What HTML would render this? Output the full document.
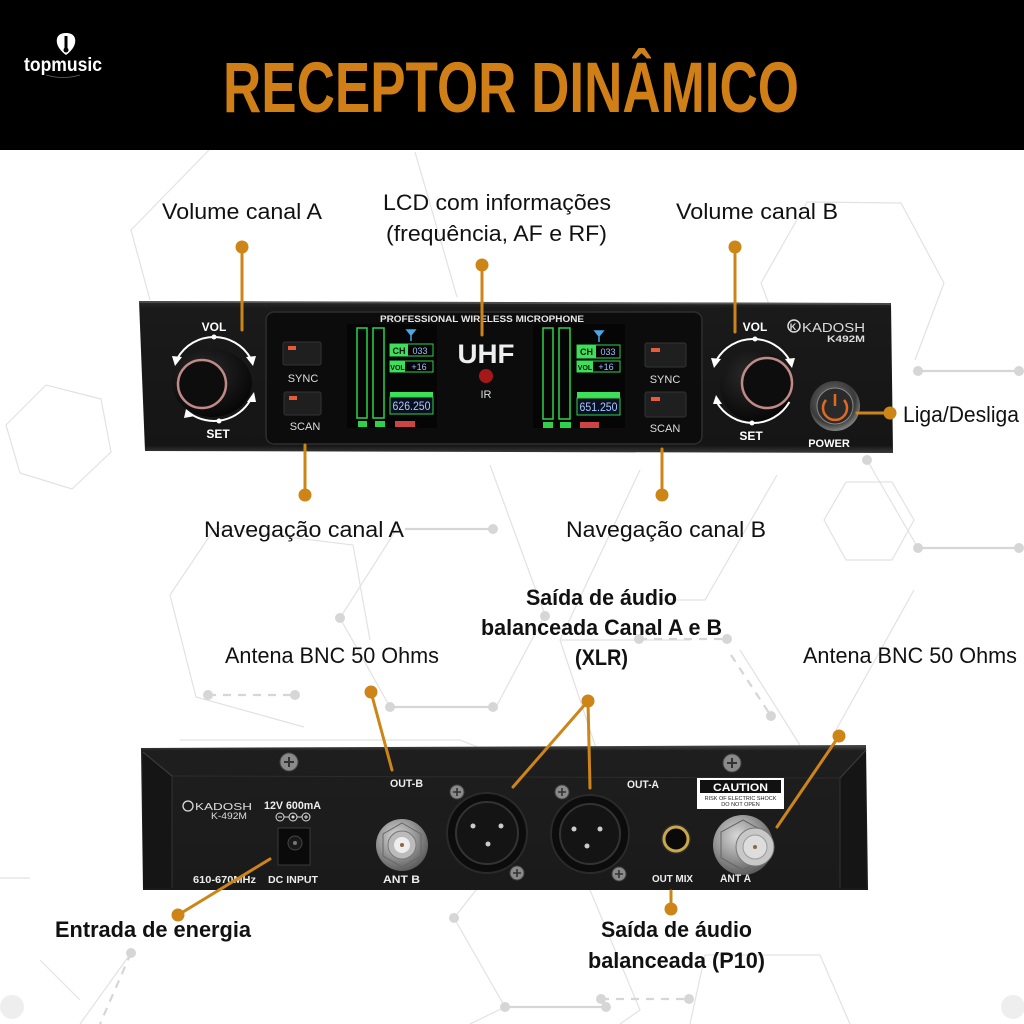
<!DOCTYPE html>
<html><head><meta charset="utf-8"><style>
html,body{margin:0;padding:0;background:#fff;}
svg{display:block;}
</style></head><body>
<svg width="1024" height="1024" viewBox="0 0 1024 1024" xmlns="http://www.w3.org/2000/svg">
<defs>
<radialGradient id="metal" cx="40%" cy="35%" r="70%"><stop offset="0" stop-color="#d8d8d8"/><stop offset="0.5" stop-color="#9a9a9a"/><stop offset="1" stop-color="#555"/></radialGradient>
<radialGradient id="pwr" cx="45%" cy="40%" r="65%"><stop offset="0" stop-color="#777"/><stop offset="0.7" stop-color="#3a3a3a"/><stop offset="1" stop-color="#999"/></radialGradient>
<radialGradient id="knob" cx="40%" cy="35%" r="70%"><stop offset="0" stop-color="#2a2a2a"/><stop offset="1" stop-color="#050505"/></radialGradient>
<linearGradient id="front" x1="0" y1="0" x2="0" y2="1"><stop offset="0" stop-color="#2b2b2b"/><stop offset="0.05" stop-color="#1a1a1a"/><stop offset="0.95" stop-color="#151515"/><stop offset="1" stop-color="#3a3a3a"/></linearGradient>
<linearGradient id="back" x1="0" y1="0" x2="0" y2="1"><stop offset="0" stop-color="#4a4a4a"/><stop offset="0.04" stop-color="#1e1e1e"/><stop offset="1" stop-color="#1a1a1a"/></linearGradient>
</defs>

<!-- background -->
<rect width="1024" height="1024" fill="#fff"/>

<!-- hex background pattern -->
<g fill="none" stroke="#e2e2e2" stroke-width="1.2">
<polyline points="209,150 131,230 150,300"/>
<polyline points="415,152 457,297"/>
<polyline points="807,202 901,203 944,283 915,360"/>
<polyline points="807,202 761,283 790,360"/>
<polygon points="6,425 46,385 101,399 111,452 72,489 20,473"/>
<polygon points="846,482 892,482 914,520 892,560 846,560 824,520"/>
<polyline points="867,460 918,548"/>
<polyline points="777,475 705,600 660,600"/>
<polyline points="490,465 545,615 496,707"/>
<polyline points="398,527 340,618 390,707"/>
<polyline points="170,595 215,528 353,545 370,640"/>
<polyline points="170,595 196,697 304,727"/>
<polyline points="914,590 836,730"/>
<polyline points="640,470 560,640 600,760"/>
<polyline points="560,640 690,640"/>
<polyline points="740,650 800,745"/>
<polyline points="180,740 460,740 480,748"/>
<polyline points="454,918 505,1007 470,1024"/>
<polyline points="454,918 480,885"/>
<polyline points="131,953 80,1024"/>
<polyline points="40,960 80,1000"/>
<polyline points="590,890 640,1010 620,1024"/>
<polyline points="705,955 820,955 850,1024"/>
<polyline points="705,955 690,1024"/>
<polyline points="0,878 30,878"/>
</g>
<g stroke="#d6d6d6" stroke-width="2.2" fill="none">
<line x1="405" y1="529" x2="493" y2="529"/>
<line x1="390" y1="707" x2="493" y2="707"/>
<line x1="918" y1="371" x2="1019" y2="371"/>
<line x1="918" y1="548" x2="1019" y2="548"/>
<line x1="505" y1="1007" x2="606" y2="1007"/>
<line x1="208" y1="695" x2="295" y2="695" stroke-dasharray="8,7"/>
<line x1="639" y1="639" x2="727" y2="639" stroke-dasharray="8,7"/>
<line x1="601" y1="999" x2="689" y2="999" stroke-dasharray="8,7"/>
<line x1="731" y1="655" x2="771" y2="716" stroke-dasharray="8,7"/>
<line x1="131" y1="953" x2="100" y2="1024" stroke-dasharray="8,7"/>
</g>
<g fill="#d6d6d6">
<circle cx="493" cy="529" r="5"/><circle cx="340" cy="618" r="5"/><circle cx="390" cy="707" r="5"/><circle cx="493" cy="707" r="5"/>
<circle cx="208" cy="695" r="5"/><circle cx="295" cy="695" r="5"/><circle cx="639" cy="639" r="5"/><circle cx="727" cy="639" r="5"/>
<circle cx="545" cy="616" r="5"/><circle cx="771" cy="716" r="5"/><circle cx="918" cy="371" r="5"/><circle cx="1019" cy="371" r="5"/>
<circle cx="918" cy="548" r="5"/><circle cx="1019" cy="548" r="5"/><circle cx="867" cy="460" r="5"/>
<circle cx="454" cy="918" r="5"/><circle cx="131" cy="953" r="5"/><circle cx="505" cy="1007" r="5"/><circle cx="606" cy="1007" r="5"/>
<circle cx="601" cy="999" r="5"/><circle cx="689" cy="999" r="5"/>
<circle cx="12" cy="1007" r="12" fill="#eee"/><circle cx="1013" cy="1007" r="12" fill="#eee"/>
</g>

<!-- header -->
<rect x="0" y="0" width="1024" height="150" fill="#000"/>
<path d="M66,33 C58,33 56,38 57,43 C58,48 62,52 66,55 C70,52 74,48 75,43 C76,38 74,33 66,33 Z" fill="#fff"/>
<rect x="64.5" y="36" width="3" height="16" fill="#000"/>
<circle cx="66" cy="50" r="2.5" fill="#000"/>
<text x="24" y="71" font-family="Liberation Sans Narrow, Liberation Sans, sans-serif" font-weight="bold" font-size="19" fill="#fff" textLength="78" lengthAdjust="spacingAndGlyphs">topmusic</text>
<path d="M46,75 Q63,80 80,75" stroke="#666" stroke-width="0.8" fill="none"/>
<text x="223" y="112" font-family="Liberation Sans Narrow, Liberation Sans, sans-serif" font-weight="bold" font-size="71" fill="#cf7f16" textLength="576" lengthAdjust="spacingAndGlyphs">RECEPTOR DINÂMICO</text>

<!-- labels -->
<g font-family="Liberation Sans Narrow, Liberation Sans, sans-serif" font-size="22" fill="#111">
<text x="162" y="219" textLength="160" lengthAdjust="spacingAndGlyphs">Volume canal A</text>
<text x="383" y="210" textLength="228" lengthAdjust="spacingAndGlyphs">LCD com informações</text>
<text x="386" y="241" textLength="221" lengthAdjust="spacingAndGlyphs">(frequência, AF e RF)</text>
<text x="676" y="219" textLength="162" lengthAdjust="spacingAndGlyphs">Volume canal B</text>
<text x="903" y="422" textLength="116" lengthAdjust="spacingAndGlyphs">Liga/Desliga</text>
<text x="204" y="537" textLength="200" lengthAdjust="spacingAndGlyphs">Navegação canal A</text>
<text x="566" y="537" textLength="200" lengthAdjust="spacingAndGlyphs">Navegação canal B</text>
<text x="225" y="663" textLength="214" lengthAdjust="spacingAndGlyphs">Antena BNC 50 Ohms</text>
<text x="803" y="663" textLength="214" lengthAdjust="spacingAndGlyphs">Antena BNC 50 Ohms</text>
</g>
<g font-family="Liberation Sans Narrow, Liberation Sans, sans-serif" font-size="22" font-weight="bold" fill="#111">
<text x="526" y="605" textLength="151" lengthAdjust="spacingAndGlyphs">Saída de áudio</text>
<text x="481" y="635" textLength="241" lengthAdjust="spacingAndGlyphs">balanceada Canal A e B</text>
<text x="575" y="665" textLength="53" lengthAdjust="spacingAndGlyphs">(XLR)</text>
<text x="55" y="937" textLength="196" lengthAdjust="spacingAndGlyphs">Entrada de energia</text>
<text x="601" y="937" textLength="151" lengthAdjust="spacingAndGlyphs">Saída de áudio</text>
<text x="588" y="968" textLength="177" lengthAdjust="spacingAndGlyphs">balanceada (P10)</text>
</g>

<!-- FRONT DEVICE -->
<polygon points="139,301 891,303 893,453 145,451" fill="url(#front)"/>
<line x1="139" y1="302" x2="891" y2="304" stroke="#555" stroke-width="1.5"/>
<rect x="266" y="312" width="436" height="132" rx="8" fill="#0c0c0c" stroke="#2e2e2e" stroke-width="1.5"/>
<text x="380" y="322" font-family="Liberation Sans, sans-serif" font-weight="bold" font-size="9" fill="#e6e6e6" textLength="204" lengthAdjust="spacingAndGlyphs">PROFESSIONAL WIRELESS MICROPHONE</text>

<!-- left knob -->
<g>
<ellipse cx="212" cy="383" rx="40" ry="34" fill="url(#knob)"/>
<circle cx="202" cy="384" r="24" fill="#0d0d0d" stroke="#c08a88" stroke-width="2.5"/>
<path d="M177.6,358 A42,42 0 0 1 250.4,358" stroke="#fff" stroke-width="2" fill="none"/>
<path d="M250.4,400 A42,42 0 0 1 190,413.4" stroke="#fff" stroke-width="2" fill="none"/>
<polygon points="172,356 182,357 175,366" fill="#fff"/>
<polygon points="246,357 256,356 253,366" fill="#fff"/>
<polygon points="247,402 256,402 254,392" fill="#fff"/>
<polygon points="186,409 195,416 184,418" fill="#fff"/>
<circle cx="214" cy="337" r="2.5" fill="#fff"/><circle cx="219" cy="421" r="2.5" fill="#fff"/>
<text x="214" y="331" text-anchor="middle" font-family="Liberation Sans, sans-serif" font-weight="bold" font-size="12" fill="#fff">VOL</text>
<text x="218" y="438" text-anchor="middle" font-family="Liberation Sans, sans-serif" font-weight="bold" font-size="12" fill="#fff">SET</text>
</g>

<!-- left buttons -->
<rect x="283" y="342" width="38" height="23" rx="2" fill="#1f1f1f" stroke="#333"/>
<rect x="288" y="346" width="8" height="4" fill="#e85a3a"/>
<text x="303" y="382" text-anchor="middle" font-family="Liberation Sans, sans-serif" font-size="11" fill="#ddd">SYNC</text>
<rect x="284" y="392" width="37" height="23" rx="2" fill="#1f1f1f" stroke="#333"/>
<rect x="289" y="396" width="8" height="4" fill="#e85a3a"/>
<text x="305" y="430" text-anchor="middle" font-family="Liberation Sans, sans-serif" font-size="11" fill="#ddd">SCAN</text>

<!-- left LCD -->
<rect x="347" y="324" width="90" height="104" fill="#050505"/>
<rect x="357" y="328" width="10" height="90" fill="none" stroke="#2fd14a" stroke-width="1.5"/>
<rect x="373" y="328" width="11" height="90" fill="none" stroke="#2fd14a" stroke-width="1.5"/>
<rect x="358" y="421" width="9" height="6" fill="#2fd14a"/><rect x="375" y="421" width="10" height="6" fill="#2fd14a"/>
<rect x="395" y="421" width="20" height="6" fill="#c44"/>
<path d="M407,330 L415,330 L411,335 Z M411,335 L411,341" stroke="#4aa8e8" stroke-width="1.5" fill="#4aa8e8"/>
<rect x="390" y="344" width="43" height="12" fill="none" stroke="#2fd14a" stroke-width="1"/>
<rect x="390" y="344" width="18" height="12" fill="#3ee05a"/>
<text x="399" y="354" text-anchor="middle" font-family="Liberation Sans, sans-serif" font-weight="bold" font-size="9" fill="#111">CH</text>
<text x="420" y="354" text-anchor="middle" font-family="Liberation Sans Narrow, Liberation Sans, sans-serif" font-size="9" fill="#9bc0ff">033</text>
<rect x="390" y="361" width="43" height="11" fill="none" stroke="#2fd14a" stroke-width="1"/>
<rect x="390" y="361" width="15" height="11" fill="#3ee05a"/>
<text x="397.5" y="370" text-anchor="middle" font-family="Liberation Sans, sans-serif" font-weight="bold" font-size="7" fill="#111">VOL</text>
<text x="419" y="370" text-anchor="middle" font-family="Liberation Sans Narrow, Liberation Sans, sans-serif" font-size="9" fill="#9bc0ff">+16</text>
<rect x="390" y="392" width="43" height="5" fill="#3ee05a"/>
<rect x="390" y="397" width="43" height="17" fill="#0a1020" stroke="#2fd14a" stroke-width="1"/>
<text x="411.5" y="410" text-anchor="middle" font-family="Liberation Sans Narrow, Liberation Sans, sans-serif" font-size="12" fill="#a8c8ff" textLength="38" lengthAdjust="spacingAndGlyphs">626.250</text>

<!-- center -->
<text x="486" y="363" text-anchor="middle" font-family="Liberation Sans, sans-serif" font-weight="bold" font-size="27" fill="#eee" textLength="57" lengthAdjust="spacingAndGlyphs">UHF</text>
<circle cx="486" cy="376" r="7" fill="#a51818"/>
<text x="486" y="398" text-anchor="middle" font-family="Liberation Sans, sans-serif" font-size="11" fill="#ddd">IR</text>

<!-- right LCD -->
<rect x="533" y="324" width="92" height="104" fill="#050505"/>
<rect x="543" y="328" width="10" height="91" fill="none" stroke="#2fd14a" stroke-width="1.5"/>
<rect x="559" y="328" width="11" height="91" fill="none" stroke="#2fd14a" stroke-width="1.5"/>
<rect x="543" y="422" width="10" height="6" fill="#2fd14a"/><rect x="560" y="422" width="11" height="6" fill="#2fd14a"/>
<rect x="580" y="422" width="19" height="6" fill="#c44"/>
<path d="M595,331 L603,331 L599,336 Z M599,336 L599,342" stroke="#4aa8e8" stroke-width="1.5" fill="#4aa8e8"/>
<rect x="577" y="345" width="43" height="13" fill="none" stroke="#2fd14a" stroke-width="1"/>
<rect x="577" y="345" width="19" height="13" fill="#3ee05a"/>
<text x="586.5" y="355" text-anchor="middle" font-family="Liberation Sans, sans-serif" font-weight="bold" font-size="9" fill="#111">CH</text>
<text x="608" y="355" text-anchor="middle" font-family="Liberation Sans Narrow, Liberation Sans, sans-serif" font-size="9" fill="#9bc0ff">033</text>
<rect x="577" y="361" width="43" height="11" fill="none" stroke="#2fd14a" stroke-width="1"/>
<rect x="577" y="361" width="16" height="11" fill="#3ee05a"/>
<text x="585" y="370" text-anchor="middle" font-family="Liberation Sans, sans-serif" font-weight="bold" font-size="7" fill="#111">VOL</text>
<text x="606" y="370" text-anchor="middle" font-family="Liberation Sans Narrow, Liberation Sans, sans-serif" font-size="9" fill="#9bc0ff">+16</text>
<rect x="577" y="392" width="43" height="6" fill="#3ee05a"/>
<rect x="577" y="398" width="43" height="17" fill="#0a1020" stroke="#2fd14a" stroke-width="1"/>
<text x="598.5" y="411" text-anchor="middle" font-family="Liberation Sans Narrow, Liberation Sans, sans-serif" font-size="12" fill="#a8c8ff" textLength="38" lengthAdjust="spacingAndGlyphs">651.250</text>

<!-- right buttons -->
<rect x="645" y="343" width="41" height="24" rx="2" fill="#1f1f1f" stroke="#333"/>
<rect x="651" y="348" width="9" height="4" fill="#e85a3a"/>
<text x="665" y="383" text-anchor="middle" font-family="Liberation Sans, sans-serif" font-size="11" fill="#ddd">SYNC</text>
<rect x="645" y="392" width="41" height="25" rx="2" fill="#1f1f1f" stroke="#333"/>
<rect x="651" y="397" width="9" height="4" fill="#e85a3a"/>
<text x="665" y="432" text-anchor="middle" font-family="Liberation Sans, sans-serif" font-size="11" fill="#ddd">SCAN</text>

<!-- right knob -->
<g>
<ellipse cx="756" cy="386" rx="36" ry="36" fill="url(#knob)"/>
<circle cx="767" cy="383" r="25" fill="#0d0d0d" stroke="#c08a88" stroke-width="2.5"/>
<path d="M716.6,360 A42,42 0 0 1 789.4,360" stroke="#fff" stroke-width="2" fill="none"/>
<path d="M789.4,402 A42,42 0 0 1 716.6,402" stroke="#fff" stroke-width="2" fill="none"/>
<polygon points="711,358 721,359 714,368" fill="#fff"/>
<polygon points="785,359 795,358 792,368" fill="#fff"/>
<polygon points="713,404 722,404 716,395" fill="#fff"/>
<circle cx="755" cy="339" r="2.5" fill="#fff"/><circle cx="752" cy="423" r="2.5" fill="#fff"/>
<text x="755" y="331" text-anchor="middle" font-family="Liberation Sans, sans-serif" font-weight="bold" font-size="12" fill="#fff">VOL</text>
<text x="751" y="440" text-anchor="middle" font-family="Liberation Sans, sans-serif" font-weight="bold" font-size="12" fill="#fff">SET</text>
</g>

<!-- KADOSH logo front -->
<circle cx="794" cy="326" r="6" fill="none" stroke="#ddd" stroke-width="1.5"/>
<text x="793" y="330" text-anchor="middle" font-family="Liberation Sans, sans-serif" font-weight="bold" font-size="9" fill="#ddd">K</text>
<text x="802" y="332" font-family="Liberation Sans, sans-serif" font-size="13" fill="#ddd" textLength="63" lengthAdjust="spacingAndGlyphs">KADOSH</text>
<text x="827" y="342" font-family="Liberation Sans, sans-serif" font-weight="bold" font-size="9" fill="#ddd" textLength="38" lengthAdjust="spacingAndGlyphs">K492M</text>

<!-- power -->
<circle cx="835" cy="406" r="25" fill="url(#pwr)"/>
<circle cx="835" cy="406" r="18" fill="#2a2a2a" stroke="#888" stroke-width="1"/>
<path d="M826,400 A12,12 0 1 0 844,400" stroke="#e06a20" stroke-width="2.5" fill="none"/>
<line x1="835" y1="394" x2="835" y2="406" stroke="#e06a20" stroke-width="2.5"/>
<text x="829" y="447" text-anchor="middle" font-family="Liberation Sans, sans-serif" font-weight="bold" font-size="11" fill="#fff">POWER</text>

<!-- BACK DEVICE -->
<polygon points="141,748 866,745 868,890 143,890" fill="url(#back)"/>
<polygon points="143,752 172,776 172,888 143,888" fill="#151515"/>
<polygon points="866,750 840,778 840,888 866,888" fill="#151515"/>
<line x1="172" y1="776" x2="840" y2="778" stroke="#2c2c2c" stroke-width="1"/>
<line x1="143" y1="752" x2="172" y2="776" stroke="#3a3a3a" stroke-width="1.2"/>
<line x1="866" y1="750" x2="840" y2="778" stroke="#3a3a3a" stroke-width="1.2"/>
<line x1="172" y1="776" x2="172" y2="888" stroke="#333" stroke-width="1"/>
<line x1="840" y1="778" x2="840" y2="888" stroke="#333" stroke-width="1"/>

<!-- screws -->
<g>
<circle cx="289" cy="762" r="9" fill="#8a8a8a" stroke="#444"/><path d="M284,762 H294 M289,757 V767" stroke="#333" stroke-width="2"/>
<circle cx="732" cy="763" r="9" fill="#8a8a8a" stroke="#444"/><path d="M727,763 H737 M732,758 V768" stroke="#333" stroke-width="2"/>
<circle cx="457" cy="792" r="7" fill="#8a8a8a" stroke="#444"/><path d="M453,792 H461 M457,788 V796" stroke="#333" stroke-width="1.6"/>
<circle cx="517" cy="873" r="7" fill="#8a8a8a" stroke="#444"/><path d="M513,873 H521 M517,869 V877" stroke="#333" stroke-width="1.6"/>
<circle cx="562" cy="792" r="7" fill="#8a8a8a" stroke="#444"/><path d="M558,792 H566 M562,788 V796" stroke="#333" stroke-width="1.6"/>
<circle cx="619" cy="874" r="7" fill="#8a8a8a" stroke="#444"/><path d="M615,874 H623 M619,870 V878" stroke="#333" stroke-width="1.6"/>
</g>

<!-- back labels -->
<circle cx="188" cy="806" r="5" fill="none" stroke="#ddd" stroke-width="1.3"/>
<text x="195" y="810" font-family="Liberation Sans, sans-serif" font-size="10" fill="#ddd" textLength="57" lengthAdjust="spacingAndGlyphs">KADOSH</text>
<text x="211" y="819" font-family="Liberation Sans, sans-serif" font-size="9" fill="#ddd" textLength="36" lengthAdjust="spacingAndGlyphs">K-492M</text>
<text x="264" y="809" font-family="Liberation Sans, sans-serif" font-weight="bold" font-size="11" fill="#eee" textLength="57" lengthAdjust="spacingAndGlyphs">12V 600mA</text>
<g stroke="#ddd" stroke-width="1" fill="none">
<circle cx="280" cy="817" r="4"/><circle cx="293" cy="817" r="4"/><circle cx="306" cy="817" r="4"/>
<line x1="284" y1="817" x2="289" y2="817"/><line x1="297" y1="817" x2="302" y2="817"/>
<line x1="278" y1="817" x2="282" y2="817"/><line x1="304" y1="817" x2="308" y2="817"/><line x1="306" y1="815" x2="306" y2="819"/>
</g>
<circle cx="293" cy="817" r="1.5" fill="#ddd"/>
<rect x="278" y="828" width="32" height="37" fill="#0a0a0a" stroke="#3a3a3a"/>
<circle cx="295" cy="843" r="7" fill="#181818" stroke="#444"/>
<circle cx="295" cy="843" r="2" fill="#777"/>
<text x="193" y="883" font-family="Liberation Sans, sans-serif" font-weight="bold" font-size="10" fill="#eee" textLength="63" lengthAdjust="spacingAndGlyphs">610-670MHz</text>
<text x="268" y="883" font-family="Liberation Sans, sans-serif" font-weight="bold" font-size="10" fill="#eee" textLength="50" lengthAdjust="spacingAndGlyphs">DC INPUT</text>
<text x="390" y="787" font-family="Liberation Sans, sans-serif" font-weight="bold" font-size="11" fill="#eee" textLength="33" lengthAdjust="spacingAndGlyphs">OUT-B</text>
<text x="383" y="883" font-family="Liberation Sans, sans-serif" font-weight="bold" font-size="11" fill="#eee" textLength="37" lengthAdjust="spacingAndGlyphs">ANT B</text>

<!-- BNC B -->
<circle cx="402" cy="845" r="26" fill="url(#metal)"/>
<polygon points="402,823 421,834 421,856 402,867 383,856 383,834" fill="none" stroke="#666" stroke-width="1"/>
<circle cx="402" cy="845" r="14" fill="#bbb" stroke="#777"/>
<circle cx="402" cy="845" r="8" fill="#eee"/>
<circle cx="402" cy="845" r="2" fill="#8a6a40"/>

<!-- XLR B -->
<circle cx="487" cy="833" r="40" fill="#0c0c0c" stroke="#2a2a2a" stroke-width="2"/>
<circle cx="487" cy="833" r="31" fill="#141414" stroke="#333" stroke-width="2"/>
<circle cx="473" cy="826" r="2.5" fill="#ccc"/><circle cx="501" cy="826" r="2.5" fill="#ccc"/><circle cx="488" cy="844" r="2.5" fill="#ccc"/>

<!-- XLR A -->
<circle cx="590" cy="834" r="39" fill="#0c0c0c" stroke="#2a2a2a" stroke-width="2"/>
<circle cx="590" cy="834" r="30" fill="#141414" stroke="#333" stroke-width="2"/>
<circle cx="574" cy="829" r="2.5" fill="#ccc"/><circle cx="600" cy="829" r="2.5" fill="#ccc"/><circle cx="587" cy="846" r="2.5" fill="#ccc"/>
<text x="627" y="788" font-family="Liberation Sans, sans-serif" font-weight="bold" font-size="11" fill="#eee" textLength="32" lengthAdjust="spacingAndGlyphs">OUT-A</text>

<!-- OUT MIX -->
<circle cx="676" cy="839" r="15" fill="#2a2a2a"/>
<circle cx="676" cy="839" r="12" fill="#0a0a0a" stroke="#c9a84a" stroke-width="3"/>
<text x="652" y="882" font-family="Liberation Sans, sans-serif" font-weight="bold" font-size="10" fill="#eee" textLength="41" lengthAdjust="spacingAndGlyphs">OUT MIX</text>

<!-- CAUTION -->
<rect x="697" y="778" width="87" height="31" fill="#fff"/>
<rect x="700" y="780" width="81" height="13" fill="#111"/>
<text x="740.5" y="791" text-anchor="middle" font-family="Liberation Sans, sans-serif" font-weight="bold" font-size="11" fill="#fff" textLength="55" lengthAdjust="spacingAndGlyphs">CAUTION</text>
<text x="740.5" y="800" text-anchor="middle" font-family="Liberation Sans, sans-serif" font-size="5.5" fill="#222">RISK OF ELECTRIC SHOCK</text>
<text x="740.5" y="806" text-anchor="middle" font-family="Liberation Sans, sans-serif" font-size="5.5" fill="#222">DO NOT OPEN</text>

<!-- BNC A -->
<circle cx="743" cy="845" r="30" fill="url(#metal)"/>
<polygon points="743,820 765,832 765,858 743,870 721,858 721,832" fill="none" stroke="#666" stroke-width="1"/>
<circle cx="755" cy="847" r="19" fill="#c8c8c8" stroke="#777"/>
<circle cx="755" cy="847" r="12" fill="#ddd" stroke="#999"/>
<circle cx="755" cy="847" r="2" fill="#8a6a40"/>
<text x="720" y="882" font-family="Liberation Sans, sans-serif" font-weight="bold" font-size="11" fill="#eee" textLength="31" lengthAdjust="spacingAndGlyphs">ANT A</text>

<!-- connectors -->
<g stroke="#cd8518" stroke-width="3" fill="none" stroke-linecap="round">
<line x1="242" y1="247" x2="242" y2="330"/>
<line x1="482" y1="265" x2="482" y2="335"/>
<line x1="735" y1="247" x2="735" y2="332"/>
<line x1="857" y1="413" x2="890" y2="413"/>
<line x1="305" y1="445" x2="305" y2="495"/>
<line x1="662" y1="449" x2="662" y2="495"/>
<line x1="371" y1="692" x2="392" y2="770"/>
<line x1="588" y1="701" x2="513" y2="787"/>
<line x1="588" y1="701" x2="590" y2="788"/>
<line x1="839" y1="736" x2="777" y2="827"/>
<line x1="270" y1="859" x2="178" y2="915"/>
<line x1="671" y1="891" x2="671" y2="909"/>
</g>
<g fill="#cd8518">
<ellipse cx="242" cy="247" rx="6.5" ry="6.5"/>
<ellipse cx="482" cy="265" rx="6.5" ry="6.5"/>
<ellipse cx="735" cy="247" rx="6.5" ry="6.5"/>
<ellipse cx="890" cy="413" rx="6.5" ry="6.5"/>
<ellipse cx="305" cy="495" rx="6.5" ry="6.5"/>
<ellipse cx="662" cy="495" rx="6.5" ry="6.5"/>
<ellipse cx="371" cy="692" rx="6.5" ry="6.5"/>
<ellipse cx="588" cy="701" rx="6.5" ry="6.5"/>
<ellipse cx="839" cy="736" rx="6.5" ry="6.5"/>
<ellipse cx="178" cy="915" rx="6.5" ry="6.5"/>
<ellipse cx="671" cy="909" rx="6.5" ry="6.5"/>
</g>
</svg>
</body></html>
